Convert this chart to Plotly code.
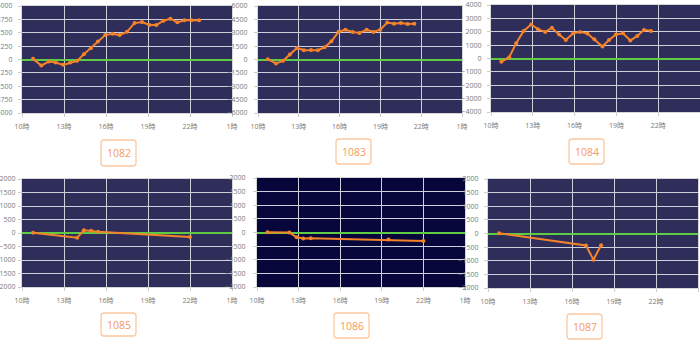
import plotly.graph_objects as go

# ---- data ----
labels = ["1082", "1083", "1084", "1085", "1086", "1087"]

x1082 = [10.79, 11.38, 11.91, 12.41, 12.94, 13.44, 13.94, 14.42, 14.92, 15.42, 15.94, 16.47,
         16.97, 17.5, 18.04, 18.57, 19.1, 19.6, 20.1, 20.6, 21.1, 21.6, 22.1, 22.65]
y1082 = [60, -560, -190, -280, -500, -280, -125, 500, 1060, 1690, 2280, 2400,
         2280, 2590, 3400, 3500, 3220, 3220, 3625, 3810, 3470, 3660, 3660, 3660]

x1083 = [10.72, 11.32, 11.84, 12.34, 12.87, 13.37, 13.9, 14.4, 14.9, 15.4, 15.93, 16.43,
         16.96, 17.46, 17.99, 18.49, 18.99, 19.5, 20.0, 20.5, 21.0, 21.5]
y1083 = [40, -445, -150, 560, 1300, 1040, 1075, 1040, 1370, 2040, 3115, 3340,
         3080, 2970, 3340, 3080, 3340, 4150, 4000, 4080, 3970, 4000]

x1084 = [10.74, 11.31, 11.81, 12.34, 12.89, 13.37, 13.89, 14.37, 14.89, 15.37, 15.9, 16.4,
         16.92, 17.42, 18.0, 18.47, 18.97, 19.47, 20.0, 20.5, 20.98, 21.48]
y1084 = [-250, 100, 1145, 2065, 2540, 2190, 1990, 2290, 1790, 1390, 1890, 1990,
         1865, 1440, 895, 1390, 1790, 1890, 1345, 1690, 2140, 2065]

x1085 = [10.79, 13.94, 14.42, 14.94, 15.44, 22.0]
y1085 = [12, -175, 100, 87, 50, -150]

x1086 = [10.76, 12.33, 12.86, 13.33, 13.88, 19.48, 22.0]
y1086 = [12, 0, -175, -220, -210, -260, -310]

x1087 = [10.79, 17.0, 17.53, 18.08]
y1087 = [12, -440, -960, -430]

xs = [x1082, x1083, x1084, x1085, x1086, x1087]
ys = [y1082, y1083, y1084, y1085, y1086, y1087]

y_ranges = [(-5000, 5000), (-6000, 6000), (-4000, 4000), (-2000, 2000), (-2000, 2000), (-2000, 2000)]
y_dticks = [1250, 1500, 1000, 500, 500, 500]
x_tickvals = [10, 13, 16, 19, 22, 25]
x_ticktext = ["10時", "13時", "16時", "19時", "22時", "1時"]

# ---- layout geometry (pixels) ----
W, H = 700, 345
plot_px = [  # x0, x1, y0(top), y1(bottom)
    (22, 232, 6, 113),
    (258, 462, 6, 113),
    (491, 700, 5, 112),
    (22, 232, 179, 287),
    (257, 465, 178, 287),
    (488, 698, 179, 288),
]
box_px = [  # x0, x1, y0, y1
    (101, 136, 140, 166),
    (336, 371, 139, 164),
    (569, 604, 139, 164),
    (101, 136, 313, 336),
    (334, 369, 313, 338),
    (567, 602, 314, 339),
]
standoffs = [4, 5, 4, 1, 6, 4]
bg_colors = ["#2f2e5a", "#2f2e5a", "#2f2e5a", "#2f2e5a", "#07063a", "#2f2e5a"]

orange = "#f5832a"
green = "#5ecb45"
grid = "#cfcfdc"
tickfont = dict(family="Open Sans, Noto Sans CJK JP", size=7, color="#7a7a7a")

fig = go.Figure()
layout = dict(
    width=W, height=H, margin=dict(l=0, r=0, t=0, b=0, autoexpand=False),
    paper_bgcolor="white", plot_bgcolor="white", showlegend=False,
    shapes=[], annotations=[],
)

def px(x):
    return x / W

def py(y):
    return 1 - y / H

for i in range(6):
    n = "" if i == 0 else str(i + 1)
    x0, x1, yt, yb = plot_px[i]
    xd = [x0 / W, x1 / W]
    yd = [1 - yb / H, 1 - yt / H]
    xa = "x" + n
    ya = "y" + n
    layout["shapes"].append(dict(type="rect", xref="paper", yref="paper",
                                 x0=xd[0], x1=xd[1], y0=yd[0], y1=yd[1],
                                 fillcolor=bg_colors[i], line=dict(width=0), layer="below"))
    layout["xaxis" + n] = dict(domain=xd, anchor=ya, range=[10, 25], tickvals=x_tickvals,
                               ticktext=x_ticktext, showgrid=True, gridcolor=grid, gridwidth=1.3,
                               zeroline=False, showline=True, linecolor="#d6d6d6", linewidth=1,
                               mirror=True, ticks="outside", ticklen=3, tickcolor="#cccccc",
                               tickfont=tickfont, ticklabelstandoff=4, fixedrange=True,
                               automargin=False)
    lo, hi = y_ranges[i]
    layout["yaxis" + n] = dict(domain=yd, anchor=xa, range=[lo, hi], dtick=y_dticks[i], tick0=0,
                               showgrid=True, gridcolor=grid, gridwidth=1.3,
                               zeroline=True, zerolinecolor=green, zerolinewidth=2,
                               showline=True, linecolor="#d6d6d6", linewidth=1, mirror=True,
                               ticks="outside", ticklen=3, tickcolor="#cccccc",
                               tickfont=tickfont, ticklabelstandoff=standoffs[i], fixedrange=True,
                               automargin=False)
    fig.add_trace(go.Scatter(x=xs[i], y=ys[i], xaxis=xa, yaxis=ya, mode="lines+markers",
                             line=dict(color=orange, width=2),
                             marker=dict(color=orange, size=4), hoverinfo="skip"))
    bx0, bx1, by0, by1 = box_px[i]
    r = 3
    path = (f"M {px(bx0 + r)},{py(by0)} L {px(bx1 - r)},{py(by0)} Q {px(bx1)},{py(by0)} {px(bx1)},{py(by0 + r)} "
            f"L {px(bx1)},{py(by1 - r)} Q {px(bx1)},{py(by1)} {px(bx1 - r)},{py(by1)} "
            f"L {px(bx0 + r)},{py(by1)} Q {px(bx0)},{py(by1)} {px(bx0)},{py(by1 - r)} "
            f"L {px(bx0)},{py(by0 + r)} Q {px(bx0)},{py(by0)} {px(bx0 + r)},{py(by0)} Z")
    layout["shapes"].append(dict(type="path", xref="paper", yref="paper", path=path,
                                 line=dict(color="#fbc89f", width=1.3), fillcolor="white"))
    layout["annotations"].append(dict(xref="paper", yref="paper", x=px((bx0 + bx1) / 2),
                                      y=py((by0 + by1) / 2), text=labels[i], showarrow=False,
                                      xanchor="center", yanchor="middle",
                                      font=dict(family="Open Sans, Noto Sans", size=10.5,
                                                color="#f59a5c")))

fig.update_layout(**layout)
fig.write_html("out.html")
